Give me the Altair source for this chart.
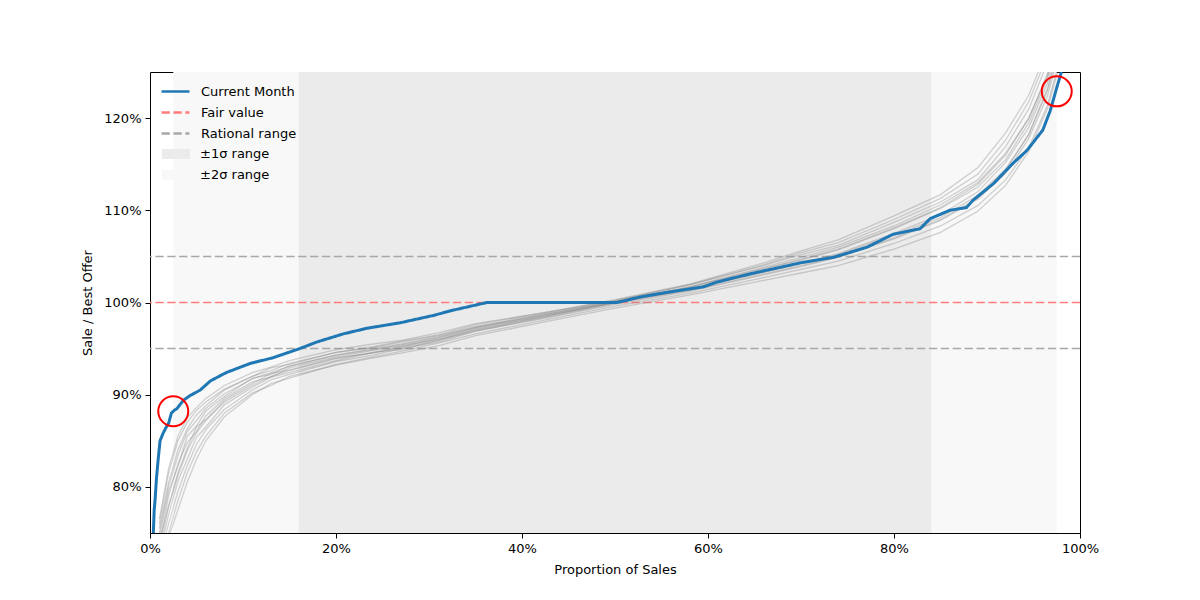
import altair as alt
import pandas as pd

# ---------------- data ----------------
grid_pct = [1, 2, 3, 4, 5, 6, 8, 11, 13, 15, 20, 24, 27, 31, 35, 43, 50, 58, 66, 70, 74, 80, 85, 89, 92, 94.5, 96.5, 98]

grey_lines = [
    [76, 81.5, 85, 87, 88.3, 89.2, 90.6, 92.0, 92.9, 93.3, 94.6, 95.2, 95.8, 96.5, 97.6, 99.0, 100.2, 101.9, 104.0, 105.2, 106.2, 108.7, 110.9, 113.3, 116.9, 121.0, 126.0, 131],
    [71, 74.5, 77.5, 80.5, 83, 85, 87.6, 90.0, 91.2, 91.8, 93.3, 94.1, 94.7, 95.6, 96.6, 98.2, 99.6, 101.0, 102.7, 103.6, 104.5, 106.4, 108.3, 110.5, 113.3, 116.8, 121.4, 127],
    [74.5, 79.5, 82.2, 85.5, 86.6, 88.2, 89.8, 91.8, 92.2, 93.1, 94.3, 94.9, 95.4, 96.2, 97.3, 98.8, 100.1, 101.6, 103.6, 104.7, 105.8, 108.1, 110.3, 112.8, 116.0, 120.0, 124.6, 130],
    [72.5, 77, 80.6, 83, 85.4, 86.5, 88.9, 90.8, 91.9, 92.4, 93.7, 94.6, 94.9, 95.9, 96.9, 98.5, 99.9, 101.4, 103.3, 104.2, 105.2, 107.3, 109.2, 111.6, 114.5, 118.2, 123.0, 128.5],
    [75.5, 80.5, 84, 86.3, 87.8, 88.8, 90.5, 92.0, 92.6, 93.4, 94.6, 95.1, 95.7, 96.4, 97.4, 98.9, 100.2, 101.9, 104.1, 105.4, 106.5, 109.0, 111.3, 113.9, 117.6, 121.8, 126.8, 132],
    [70.5, 75, 78.5, 81.5, 83.8, 85.5, 88.0, 90.2, 91.0, 92.0, 93.2, 94.0, 94.5, 95.3, 96.4, 98.0, 99.4, 100.8, 102.4, 103.2, 104.0, 105.8, 107.6, 109.9, 112.7, 116.4, 121.0, 126.5],
    [74, 78, 81.5, 84.2, 86.5, 87.3, 89.4, 91.2, 92.3, 92.7, 94.0, 94.5, 95.2, 96.1, 97.2, 98.7, 100.0, 101.5, 103.3, 104.3, 105.3, 107.5, 109.5, 112.0, 115.2, 119.0, 123.8, 129.5],
    [73.5, 79, 82.5, 84.8, 86.0, 87.7, 89.6, 91.4, 91.9, 92.9, 94.1, 94.8, 95.3, 96.0, 97.0, 98.6, 100.0, 101.7, 103.7, 104.6, 105.7, 108.0, 110.2, 112.5, 115.5, 119.5, 124.3, 130],
    [72, 76, 79.5, 82.3, 84.6, 86.2, 88.4, 90.5, 91.6, 92.2, 93.6, 94.3, 95.0, 95.7, 96.9, 98.4, 99.8, 101.2, 103.0, 103.9, 104.9, 106.9, 108.9, 111.2, 114.0, 117.8, 122.4, 128],
    [76.5, 82, 85.5, 87.5, 88.6, 89.6, 91.0, 92.4, 93.0, 93.7, 94.9, 95.5, 95.9, 96.7, 97.7, 99.0, 100.3, 102.0, 104.3, 105.6, 106.8, 109.4, 111.7, 114.6, 118.4, 122.5, 127.5, 133],
    [73, 77.8, 81.2, 83.9, 85.9, 87.2, 89.2, 91.0, 92.0, 92.6, 93.9, 94.6, 95.1, 95.9, 97.1, 98.6, 100.0, 101.3, 103.1, 104.0, 105.0, 107.0, 109.0, 111.3, 114.3, 118.3, 123.2, 129],
    [75, 80, 83.4, 86, 87.2, 88.5, 90.1, 91.7, 92.4, 93.1, 94.3, 95.0, 95.5, 96.3, 97.3, 98.8, 100.1, 101.7, 103.8, 104.9, 106.0, 108.3, 110.6, 113.0, 116.2, 120.0, 124.8, 130.5],
]

blue_x = [0.0036, 0.0045, 0.0054, 0.007, 0.009, 0.0108, 0.014, 0.017, 0.020, 0.023, 0.026, 0.029,
          0.036, 0.043, 0.054, 0.065, 0.082, 0.108, 0.132, 0.161, 0.179, 0.208, 0.233, 0.269,
          0.305, 0.323, 0.358, 0.362, 0.502, 0.527, 0.556, 0.595, 0.609, 0.645, 0.677, 0.699,
          0.735, 0.771, 0.799, 0.828, 0.839, 0.86, 0.878, 0.885, 0.907, 0.928, 0.943, 0.96,
          0.968, 0.975, 0.98]
blue_y = [0.75, 0.775, 0.785, 0.81, 0.832, 0.85, 0.858, 0.864, 0.869, 0.88, 0.883, 0.885,
          0.894, 0.899, 0.905, 0.915, 0.924, 0.934, 0.940, 0.950, 0.957, 0.966, 0.972, 0.978,
          0.986, 0.991, 0.999, 1.0, 1.0, 1.006, 1.011, 1.017, 1.022, 1.031, 1.038, 1.043,
          1.049, 1.060, 1.074, 1.080, 1.091, 1.100, 1.103, 1.111, 1.129, 1.151, 1.165, 1.187,
          1.208, 1.233, 1.25]

ref_names = ["Fair value", "Rational range", "Rational range"]
ref_values = [1.00, 1.05, 0.95]

band_names = ["±2σ range", "±1σ range"]
band_lo = [0.025, 0.16]
band_hi = [0.975, 0.84]

circle_x = [0.025, 0.975]
circle_y = [0.882, 1.229]

series_domain = ["Current Month", "Fair value", "Rational range"]
series_colors = ["#1f77b4", "#ff7b7b", "#a8a8a8"]
series_dash = [[1, 0], [8.3, 3.6], [8.3, 3.6]]

# ---------------- tables ----------------
grey_rows = []
for i, ys in enumerate(grey_lines):
    for xp, yp in zip(grid_pct, ys):
        grey_rows.append({"line": i, "x": xp / 100, "y": yp / 100})
grey_df = pd.DataFrame(grey_rows)

blue_df = pd.DataFrame({"x": blue_x, "y": blue_y, "series": "Current Month"})
ref_df = pd.DataFrame({"series": ref_names, "y": ref_values})
band_df = pd.DataFrame({"band": band_names, "x": band_lo, "x2": band_hi,
                        "y": [0.75, 0.75], "y2": [1.25, 1.25]})
circ_df = pd.DataFrame({"x": circle_x, "y": circle_y})

W, H = 930, 461
xs = alt.Scale(domain=[0, 1], nice=False, zero=False)
ys = alt.Scale(domain=[0.75, 1.25], nice=False, zero=False)

xaxis = alt.Axis(values=[0, 0.2, 0.4, 0.6, 0.8, 1.0], format=".0%", title="Proportion of Sales",
                 labelFlush=False)
yaxis = alt.Axis(values=[0.8, 0.9, 1.0, 1.1, 1.2], format=".0%", title="Sale / Best Offer",
                 labelFlush=False)

color_scale = alt.Scale(domain=series_domain, range=series_colors)
dash_scale = alt.Scale(domain=series_domain, range=series_dash)
line_legend = alt.Legend(title=None, orient="none", legendX=12, legendY=6,
                         symbolType="M-1.15,0H1.15", symbolSize=590, symbolStrokeWidth=2.5,
                         labelFontSize=13, rowPadding=0, labelOffset=12)

band_legend = alt.Legend(title=None, orient="none", legendX=12, legendY=68,
                         symbolType="M-1,-0.36H1V0.36H-1Z", symbolSize=784,
                         symbolStrokeWidth=0, symbolOpacity=1,
                         labelFontSize=13, rowPadding=-0.3, labelOffset=10)

bands = alt.Chart(band_df).mark_rect(opacity=1, clip=True).encode(
    x=alt.X("x:Q", scale=xs, axis=xaxis),
    x2="x2",
    y=alt.Y("y:Q", scale=ys, axis=yaxis),
    y2="y2",
    fill=alt.Fill("band:N", scale=alt.Scale(domain=["±1σ range", "±2σ range"],
                                             range=["#ebebeb", "#f8f8f8"]),
                  legend=band_legend),
    order=alt.Order("x:Q"),
)

refs = alt.Chart(ref_df).mark_rule(strokeWidth=1.5).encode(
    y=alt.Y("y:Q", scale=ys),
    color=alt.Color("series:N", scale=color_scale, legend=line_legend),
    strokeDash=alt.StrokeDash("series:N", scale=dash_scale, legend=line_legend),
)

greys = alt.Chart(grey_df).mark_line(color="#808080", opacity=0.35, strokeWidth=1.3, clip=True).encode(
    x=alt.X("x:Q", scale=xs),
    y=alt.Y("y:Q", scale=ys),
    detail="line:N",
    order="x:Q",
)

blue = alt.Chart(blue_df).mark_line(strokeWidth=3, clip=True).encode(
    x=alt.X("x:Q", scale=xs),
    y=alt.Y("y:Q", scale=ys),
    color=alt.Color("series:N", scale=color_scale, legend=line_legend),
    strokeDash=alt.StrokeDash("series:N", scale=dash_scale, legend=line_legend),
    order="x:Q",
)

circles = alt.Chart(circ_df).mark_point(shape="circle", size=900, filled=False,
                                        color="red", strokeWidth=2, opacity=1).encode(
    x=alt.X("x:Q", scale=xs),
    y=alt.Y("y:Q", scale=ys),
)

chart = alt.layer(bands, refs, greys, blue, circles).resolve_scale(
    color="shared", strokeDash="shared"
).properties(
    width=W, height=H,
    background="white",
    autosize=alt.AutoSizeParams(type="none"),
    padding={"left": 142, "top": 64, "right": 112, "bottom": 59},
).configure_view(
    stroke="black", strokeWidth=1
).configure_axis(
    grid=False, domain=False, tickColor="black", tickSize=5, tickWidth=1,
    labelFont="DejaVu Sans", labelFontSize=13, labelColor="black", labelPadding=4,
    titleFont="DejaVu Sans", titleFontSize=13, titleFontWeight="normal", titleColor="black",
).configure_axisX(titlePadding=8).configure_axisY(titlePadding=9).configure_legend(
    labelFont="DejaVu Sans", labelColor="black"
)

chart.save("out.html", embed_options={"renderer": "svg", "actions": False})
